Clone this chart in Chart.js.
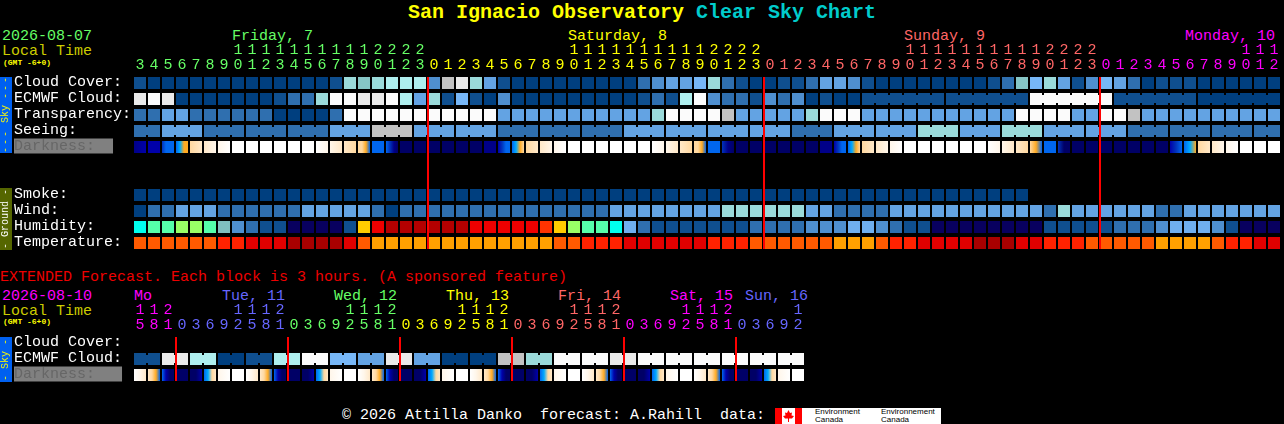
<!DOCTYPE html>
<html>
<head>
<meta charset="utf-8">
<title>San Ignacio Observatory Clear Sky Chart</title>
<script src="https://cdn.jsdelivr.net/npm/chart.js@4/dist/chart.umd.min.js"></script>
<style>
  body { margin: 0; background: #000; }
  #page { position: relative; width: 1284px; height: 424px; overflow: hidden; background: #000; font-family: "Liberation Mono", monospace; }
  #page canvas { position: absolute; left: 0; }
  .txt { position: absolute; font-size: 15px; line-height: 15px; white-space: pre; }
  .tiny { font-size: 8px; line-height: 8px; font-weight: bold; color: #ffff00; }
  .side { position: absolute; left: 0; width: 12px; font-size: 10px; line-height: 12px; text-align: center; white-space: pre; writing-mode: vertical-rl; transform: rotate(180deg); }
  .side span { letter-spacing: 2px; }
  #title { position: absolute; left: 408px; top: 3px; font-size: 20px; line-height: 20px; font-weight: bold; white-space: pre; color: #ffff00; }
  #title span { color: #00cccc; }
  #logo { position: absolute; left: 775px; top: 408px; width: 166px; height: 16px; background: #fff; color: #000; font: 8px/8px "Liberation Sans", sans-serif; }
  #logo svg { position: absolute; left: 0; top: 0; }
  #logo div { position: absolute; top: 0; }
</style>
</head>
<body>
<div id="page">
  <div id="title">San Ignacio Observatory <span>Clear Sky Chart</span></div>

  <div class="txt" style="left:2px;top:29px;color:#66ff66">2026-08-07</div>
  <div class="txt" style="left:2px;top:44px;color:#cccc00">Local Time</div>
  <div class="txt tiny" style="left:3px;top:59px">(GMT -6+0)</div>
  <div class="txt" style="left:232px;top:29px;color:#66ff66">Friday, 7</div>
  <div class="txt" style="left:568px;top:29px;color:#ffff00">Saturday, 8</div>
  <div class="txt" style="left:904px;top:29px;color:#ff6666">Sunday, 9</div>
  <div class="txt" style="left:1185px;top:29px;color:#ff00ff">Monday, 10</div>

  <canvas id="mainChart" width="1284" height="251" style="top:0"></canvas>
  <div class="side" style="top:77px;height:76px;background:#0060f0;color:#ffff00"><span>---</span> Sky <span>---</span></div>
  <div class="side" style="top:188px;height:62px;background:#556600;color:#ffffff">- Ground -</div>

  <div class="txt" style="left:0;top:270px;color:#ee0000">EXTENDED Forecast. Each block is 3 hours. (A sponsored feature)</div>
  <div class="txt" style="left:2px;top:289px;color:#ff00ff">2026-08-10</div>
  <div class="txt" style="left:2px;top:304px;color:#cccc00">Local Time</div>
  <div class="txt tiny" style="left:3px;top:318px">(GMT -6+0)</div>
  <div class="txt" style="left:134px;top:289px;color:#ff00ff">Mo</div>
  <div class="txt" style="left:222px;top:289px;color:#6666ff">Tue, 11</div>
  <div class="txt" style="left:334px;top:289px;color:#66ff66">Wed, 12</div>
  <div class="txt" style="left:446px;top:289px;color:#ffff00">Thu, 13</div>
  <div class="txt" style="left:558px;top:289px;color:#ff6666">Fri, 14</div>
  <div class="txt" style="left:670px;top:289px;color:#ff00ff">Sat, 15</div>
  <div class="txt" style="left:745px;top:289px;color:#6666ff">Sun, 16</div>

  <canvas id="extChart" width="810" height="103" style="top:280px"></canvas>
  <div class="side" style="top:337px;height:45px;background:#0060f0;color:#ffff00">- Sky -</div>

  <div class="txt" style="left:342px;top:408px;color:#ffffff">© 2026 Attilla Danko  forecast: A.Rahill  data:</div>
  <div id="logo">
    <svg width="28" height="16" viewBox="0 0 28 16">
      <rect x="0" y="0" width="7" height="16" fill="#ff0000"/>
      <rect x="20" y="0" width="7" height="16" fill="#ff0000"/>
      <polygon fill="#ff0000" points="13.5,2 15,5 17,4.5 16.5,7.5 19,8 17,10.5 14,10.5 14,14 13,14 13,10.5 10,10.5 8,8 10.5,7.5 10,4.5 12,5"/>
    </svg>
    <div style="left:40px">Environment<br>Canada</div>
    <div style="left:106px">Environnement<br>Canada</div>
  </div>
</div>

<script>
// local hour of every block
const hours = [3,4,5,6,7,8,9,10,11,12,13,14,15,16,17,18,19,20,21,22,23,
  0,1,2,3,4,5,6,7,8,9,10,11,12,13,14,15,16,17,18,19,20,21,22,23,
  0,1,2,3,4,5,6,7,8,9,10,11,12,13,14,15,16,17,18,19,20,21,22,23,
  0,1,2,3,4,5,6,7,8,9,10,11,12];
const extHours = [15,18,21,0,3,6,9,12,15,18,21,0,3,6,9,12,15,18,21,0,3,6,9,12,15,18,21,0,3,6,9,12,15,18,21,0,3,6,9,12,15,18,21,0,3,6,9,12];

const rowLabels = ['Cloud Cover:', 'ECMWF Cloud:', 'Transparency:', 'Seeing:', 'Darkness:  ', '', '', 'Smoke:', 'Wind:', 'Humidity:', 'Temperature:'];
const extRowLabels = ['Cloud Cover:', 'ECMWF Cloud:', 'Darkness:   '];

const dayColors = ['#66ff66', '#ffff00', '#ff6666', '#ff00ff'];
const extDayColors = ['#ff00ff', '#6666ff', '#66ff66', '#ffff00', '#ff6666', '#ff00ff', '#6666ff'];

// sky colour table, clear -> overcast
const skyColors = ['#003f7f', '#0f4f8f', '#2f6faf', '#4f8fcf', '#63a3e3', '#77b7f7', '#86c6c6', '#9adada', '#aeeeee', '#c2c2c2', '#eaeaea', '#fbfbfb'];
const humidityColors = ['#08005f', '#0f4f8f', '#2f6faf', '#4f8fcf', '#6fafef', '#80bfbf', '#00ffee', '#55ffaa', '#99ff66', '#ffcc00', '#ff3300', '#ee0000', '#b40000'];
const temperatureColors = ['#ffa000', '#ff5a00', '#ff2200', '#e00000', '#a80000'];
const darknessColors = ['#ffffff', '#fff6ea', '#ffe8c8', '#ffd8a0', '#ffaa22', '#00aaff', '#0066ee', '#0033bb', '#0000aa', '#000088', '#000066'];

const cloudCover = [1,0,0,0,0,0,0,0,0,0,0,0,0,0,1,7,6,7,8,8,8, 3,9,10,7,4,1,0,0,0,0,0,0,0,0,0,2,3,4,4,5,7,2,1,0, 0,1,1,2,4,4,3,1,0,0,0,0,0,0,0,0,1,2,6,5,7,4,1,3,5,4,2,0,1,1,1,0,0,0,0,0,0];
const ecmwf = [10,11,10,0,0,0,0,0,0,0,1,2,2,7,11,11,10,10,11,8,4, 7,1,5,1,0,3,0,0,0,0,0,0,0,0,0,1,2,1,8,11,3,2,2,1, 3,2,3,0,1,0,0,1,1,1,1,1,1,1,1,1,1,1,1,11,11,11,11,11,11,1,1,1,1,1,1,0,0,0,0,0,0];
const transparency = [2,2,4,4,2,2,2,2,2,2,0,0,0,0,2,11,11,11,11,11,11, 11,11,11,11,11,4,4,4,4,4,4,4,4,4,4,4,7,11,11,11,11,9,4,4, 4,4,4,7,11,11,11,4,4,4,4,4,4,4,4,4,4,4,11,11,11,11,4,4,11,11,9,4,4,4,4,4,4,4,4,4,4];
const seeing = [2,2,4,4,4,2,2,2,2,2,2,2,2,2,4,4,4,9,9,9,4, 4,4,4,4,4,2,2,2,2,2,2,2,2,2,4,4,4,4,4,4,4,4,4,4, 4,4,2,2,2,4,4,4,4,4,4,7,7,7,4,4,4,7,7,7,4,4,4,4,4,4,2,2,2,2,2,2,2,2,2,2,2];
const darkness = [[9,8],[8],[7,6,6,6],[6,5,4,4],[3,2],[2,1],[1,0],[0],[0],[0],[0],[0],[0],[0,1],[1,2],[2,3],[3,3,4,6],[6],[6,7,9,10],[10],[10],
  [10],[10],[10],[10],[9],[8,7,6,6],[6,5,4,3],[3,2],[2,1],[1,0],[0],[0],[0],[0],[0],[0],[0,1],[1,2],[2,3],[3,3,4,6],[6],[7,9,10],[10],[10],
  [10],[10],[10],[10],[9],[8,7,6,6],[6,5,4,3],[3,2],[2,1],[1,0],[0],[0],[0],[0],[0],[0],[0,1],[1,2],[2,3],[3,4,6],[6],[7,10,10],[10],[10],
  [10],[10],[10],[10],[10],[8,7,6],[6,5,4],[3,2],[2,1],[1,0],[0],[0],[0]];
const smoke = [0,0,0,0,0,0,0,0,0,0,0,0,0,0,0,0,0,0,0,0,0, 0,0,0,0,0,0,0,0,0,0,0,0,0,0,0,0,0,0,0,0,0,0,0,0, 0,0,0,0,0,0,0,0,0,0,0,0,0,0,0,0,0,0,0];
const wind = [0,2,2,4,4,4,2,2,2,2,2,2,4,4,4,4,4,2,0,2,2, 2,2,2,2,2,2,2,2,2,2,2,2,2,4,4,4,4,4,4,4,4,7,7,7, 7,7,7,4,4,2,2,2,2,4,4,4,4,4,4,4,4,4,4,4,2,7,4,4,4,4,4,4,2,2,4,4,4,4,4,4,4];
const humidity = [6,7,7,8,8,7,5,3,2,1,1,0,0,0,0,1,9,11,12,12,12, 12,12,12,11,11,11,11,11,10,9,8,7,7,6,4,2,1,1,1,1,1,1,1,2, 2,2,2,3,3,3,4,4,3,2,1,1,0,0,0,0,0,0,0,0,1,1,1,1,1,2,2,2,3,4,4,4,3,1,0,0,0];
const temperature = [1,1,1,1,1,1,2,2,3,3,3,4,4,4,4,3,1,0,0,0,0, 0,0,0,0,0,0,0,0,0,1,1,2,2,2,3,3,3,3,3,3,2,2,2,1, 1,1,1,1,1,0,0,0,1,2,2,3,3,3,3,4,4,4,3,3,2,2,2,1,1,1,1,1,0,0,0,0,1,2,2,3,3];

const extEcmwf = [1,1,10,10,8,8,0,0,1,1,8,8,11,11,5,5,4,4,10,10,4,4,0,0,0,0,9,9,7,7,11,11,11,11,10,10,11,11,11,11,11,11,11,11,11,11,11,11];
const extDarkness = [[0,1,2],[2,3,4,6],[6,8,10,10],[10],[10,10,8],[6,5,3,2],[1,0],[0],
  [0,1,2],[2,3,4,6],[6,8,10,10],[10],[10,10,8],[6,5,3,2],[1,0],[0],
  [0,1,2],[2,3,4,6],[6,8,10,10],[10],[10,10,8],[6,5,3,2],[1,0],[0],
  [0,1,2],[2,3,4,6],[6,8,10,10],[10],[10,10,8],[6,5,3,2],[1,0],[0],
  [0,1,2],[2,3,4,6],[6,8,10,10],[10],[10,10,8],[6,5,3,2],[1,0],[0],
  [0,1,2],[2,3,4,6],[6,8,10,10],[10],[10,10,8],[6,5,3,2],[1,0],[0]];

const CELL = 6 / 14;      // half a block, in columns (12px of the 14px pitch)
const GAP_LEFT = 133;     // where column 0 starts

// seeing comes in 3 hour runs, ECMWF goes 6 hourly further out
const seeingGroup = c => Math.floor((c + 1) / 3);
const ecmwfGroup = c => c < 52 ? -c - 1 : Math.floor((c - 52) / 6);
const extEcmwfGroup = c => Math.floor(c / 2);

function cellsFor(row, values, colors) {
  return values.map((v, c) => ({ y: row, x: [c - CELL, c + CELL], color: colors[v] }));
}

function linksFor(row, values, colors, groupOf) {
  const links = [];
  values.forEach((v, c) => {
    if (c + 1 < values.length && values[c + 1] === v && groupOf(c) === groupOf(c + 1)) {
      links.push({ y: row, x: [c + CELL, c + 1 - CELL], color: colors[v] });
    }
  });
  return links;
}

function darknessCells(row, values) {
  return values.map((stops, c) => ({ y: row, x: [c - CELL, c + CELL], stops: stops.map(s => darknessColors[s]) }));
}

function cellColor(ctx) {
  const cell = ctx.raw;
  if (cell.color) return cell.color;
  if (cell.stops.length === 1) return cell.stops[0];
  const xs = ctx.chart.scales.x;
  const grad = ctx.chart.ctx.createLinearGradient(xs.getPixelForValue(cell.x[0]), 0, xs.getPixelForValue(cell.x[1]), 0);
  cell.stops.forEach((col, i) => grad.addColorStop(i / (cell.stops.length - 1), col));
  return grad;
}

// red line at each midnight
const midnightLines = {
  id: 'midnightLines',
  afterDatasetsDraw(chart, args, opts) {
    const { ctx, scales } = chart;
    const top = scales.y.getPixelForValue(0) - 6;
    const bottom = scales.y.getPixelForValue(scales.y.getLabels().length - 1) + 6;
    ctx.save();
    ctx.fillStyle = '#ff0000';
    opts.hours.forEach((h, c) => {
      if (h === 0) ctx.fillRect(scales.x.getPixelForValue(c - 0.5), top, 2, bottom - top);
    });
    ctx.restore();
  }
};

function makeChart(id, labels, hrs, colors, cells, links) {
  const canvas = document.getElementById(id);
  const font = { family: '"Liberation Mono", monospace', size: 15, lineHeight: 1 };
  const dayOf = c => hrs.slice(0, c + 1).filter(h => h === 0).length;
  const rowName = d => ({ ...d, y: labels[d.y] });
  return new Chart(canvas, {
    type: 'bar',
    data: {
      labels: labels,
      datasets: [
        { data: links.map(rowName), barThickness: 8, grouped: false, inflateAmount: 0, backgroundColor: cellColor },
        { data: cells.map(rowName), barThickness: 12, grouped: false, inflateAmount: 0, backgroundColor: cellColor }
      ]
    },
    options: {
      indexAxis: 'y',
      responsive: false,
      animation: false,
      devicePixelRatio: 1,
      layout: { padding: { left: 14, right: canvas.width - GAP_LEFT - hrs.length * 14, top: 0, bottom: 0 } },
      plugins: { legend: { display: false }, tooltip: { enabled: false }, midnightLines: { hours: hrs } },
      scales: {
        x: {
          type: 'linear',
          position: 'top',
          min: -0.5,
          max: hrs.length - 0.5,
          grid: { display: false, drawTicks: false },
          border: { display: false },
          afterBuildTicks: scale => { scale.ticks = hrs.map((h, c) => ({ value: c })); },
          afterFit: scale => {
            scale.height = canvas.height - labels.length * 16;
            scale.paddingLeft = 0;
            scale.paddingRight = 0;
          },
          ticks: {
            autoSkip: false,
            minRotation: 0,
            maxRotation: 0,
            padding: 2,
            font: font,
            color: ctx => colors[dayOf(ctx.index)],
            callback: (value, index) => {
              const h = hrs[index];
              return h >= 10 ? [String(Math.floor(h / 10)), String(h % 10)] : String(h);
            }
          }
        },
        y: {
          type: 'category',
          grid: { display: false, drawTicks: false },
          border: { display: false },
          afterFit: scale => {
            scale.width = GAP_LEFT - 14;
            scale.paddingTop = 0;
            scale.paddingBottom = 0;
          },
          ticks: {
            autoSkip: false,
            crossAlign: 'far',
            padding: 0,
            labelOffset: -1,
            font: font,
            color: ctx => String(labels[ctx.index]).startsWith('Darkness') ? '#666666' : '#ffffff',
            showLabelBackdrop: ctx => String(labels[ctx.index]).startsWith('Darkness'),
            backdropColor: '#808080',
            backdropPadding: 0
          }
        }
      }
    },
    plugins: [midnightLines]
  });
}

document.addEventListener('DOMContentLoaded', () => {
  makeChart('mainChart', rowLabels, hours, dayColors,
    [].concat(
      cellsFor(0, cloudCover, skyColors),
      cellsFor(1, ecmwf, skyColors),
      cellsFor(2, transparency, skyColors),
      cellsFor(3, seeing, skyColors),
      darknessCells(4, darkness),
      cellsFor(7, smoke, skyColors),
      cellsFor(8, wind, skyColors),
      cellsFor(9, humidity, humidityColors),
      cellsFor(10, temperature, temperatureColors)
    ),
    [].concat(
      linksFor(1, ecmwf, skyColors, ecmwfGroup),
      linksFor(3, seeing, skyColors, seeingGroup)
    )
  );

  makeChart('extChart', extRowLabels, extHours, extDayColors,
    [].concat(cellsFor(1, extEcmwf, skyColors), darknessCells(2, extDarkness)),
    linksFor(1, extEcmwf, skyColors, extEcmwfGroup)
  );
});
</script>
</body>
</html>
